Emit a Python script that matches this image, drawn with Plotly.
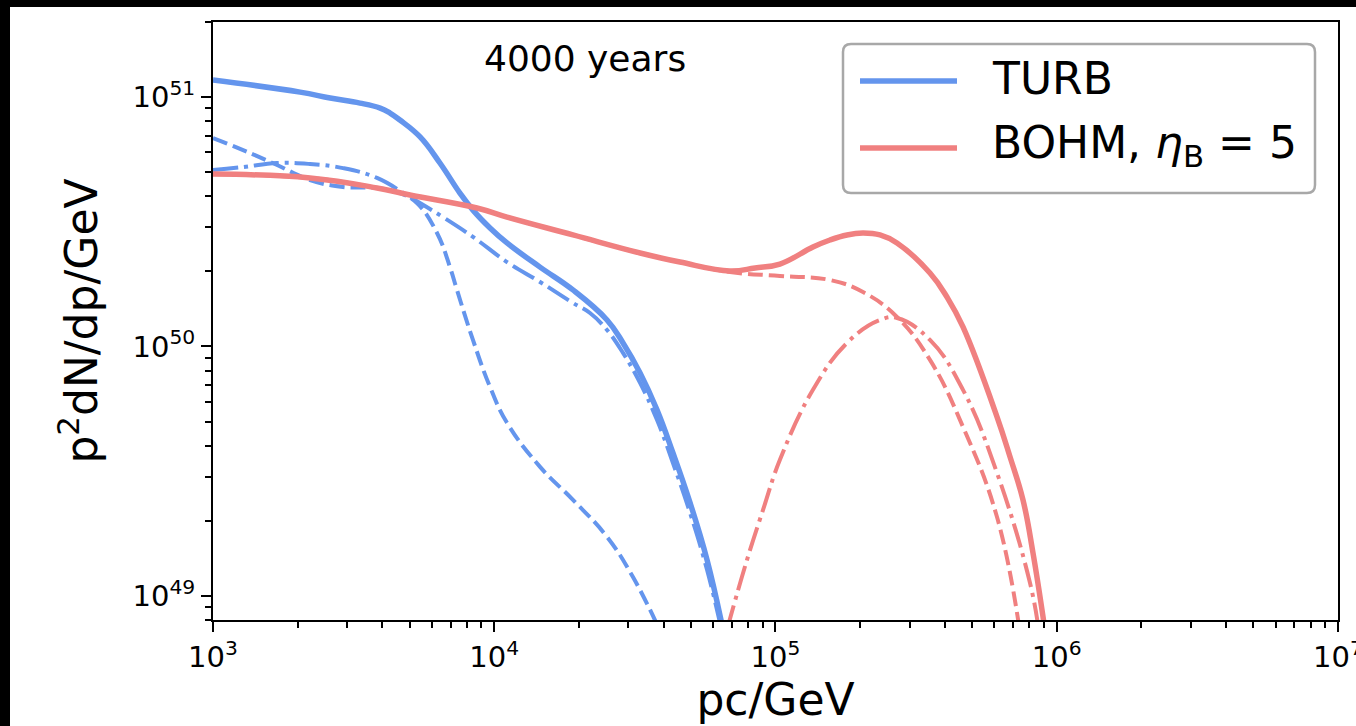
import plotly.graph_objects as go

# ---------------- data ----------------
turb_x_total = [1000, 2040, 2610, 3330, 3930, 4260, 4620, 5450, 6410, 7550, 8400, 9660, 11100,
                14550, 19050, 25180, 28700, 33000, 37900, 43200, 49700, 57100, 65100]
turb_y_total = [1.17e51, 1.047e51, 9.91e50, 9.46e50, 9.03e50, 8.63e50, 8.09e50, 6.92e50, 5.44e50,
                4.12e50, 3.52e50, 2.985e50, 2.60e50, 2.08e50, 1.685e50, 1.277e50, 1.033e50,
                7.83e49, 5.57e49, 3.74e49, 2.36e49, 1.394e49, 7.31e48]

turb_x_dashdot = [1000, 1279, 1689, 2213, 2899, 3830, 5017, 6575, 8400, 11100, 14550, 19050,
                  21900, 25180, 28700, 33000, 37900, 43200, 49700, 57100, 64300]
turb_y_dashdot = [5.10e50, 5.24e50, 5.44e50, 5.39e50, 5.19e50, 4.74e50, 3.97e50, 3.30e50,
                  2.75e50, 2.18e50, 1.814e50, 1.494e50, 1.362e50, 1.164e50, 9.42e49, 7.14e49,
                  5.08e49, 3.41e49, 2.15e49, 1.272e49, 7.31e48]

turb_x_dash = [1000, 1279, 1689, 2213, 2899, 3830, 4620, 5310, 6260, 6960, 7370, 8400, 9660,
               11100, 14550, 19050, 25180, 31100, 38700]
turb_y_dash = [6.85e50, 6.13e50, 5.34e50, 4.65e50, 4.36e50, 4.32e50, 4.12e50, 3.76e50,
               2.85e50, 2.08e50, 1.685e50, 1.062e50, 6.88e49, 4.94e49, 3.29e49, 2.425e49,
               1.724e49, 1.192e49, 7.31e48]

bohm_x_total = [1000, 2213, 3830, 5017, 8680, 11100, 19050, 33000, 45750, 68900, 84600,
                103700, 135900, 156200, 179600, 204700, 235300, 270400, 354200, 407100,
                464200, 613300, 682100, 758600, 823300, 908000]
bohm_y_total = [4.91e50, 4.74e50, 4.32e50, 4.05e50, 3.59e50, 3.30e50, 2.80e50, 2.37e50,
                2.18e50, 2.008e50, 2.064e50, 2.14e50, 2.505e50, 2.673e50, 2.80e50, 2.85e50,
                2.80e50, 2.60e50, 1.970e50, 1.579e50, 1.197e50, 5.22e49, 3.61e49, 2.425e49,
                1.487e49, 7.31e48]

bohm_x_dash = [1000, 2213, 3830, 5017, 8680, 11100, 19050, 33000, 45750, 68900, 103700,
               156200, 204700, 270400, 354200, 464200, 613300, 738000]
bohm_y_dash = [4.91e50, 4.74e50, 4.32e50, 4.05e50, 3.59e50, 3.30e50, 2.80e50, 2.37e50,
               2.18e50, 1.989e50, 1.917e50, 1.847e50, 1.653e50, 1.313e50, 8.83e49, 4.76e49,
               2.07e49, 7.31e48]

bohm_x_dashdot = [67200, 79200, 90300, 103700, 135900, 179600, 235300, 270400, 354200,
                  464200, 613300, 803200, 862600]
bohm_y_dashdot = [7.31e48, 1.394e49, 2.21e49, 3.51e49, 6.70e49, 1.033e50, 1.277e50,
                  1.301e50, 1.062e50, 6.70e49, 3.11e49, 1.128e49, 7.31e48]

x_tick_vals = [1e3, 1e4, 1e5, 1e6, 1e7]
x_tick_text = ["10<sup>3</sup>", "10<sup>4</sup>", "10<sup>5</sup>", "10<sup>6</sup>", "10<sup>7</sup>"]
y_tick_vals = [1e49, 1e50, 1e51]
y_tick_text = ["10<sup>49</sup>", "10<sup>50</sup>", "10<sup>51</sup>"]

legend_labels = ["TURB", "BOHM, <i>η</i><sub>B</sub> = 5"]
annotation_text = "4000 years"

# ---------------- style ----------------
BLUE = "#6495ED"
RED = "#F08080"
FONT = "DejaVu Sans"
DASH = "15px,6px"
DASHDOT = "25px,6px,4px,6px"
SMOOTH = 1.2
W_SOLID, W_DASH = 5.5, 4

W, H = 1356, 726
ML, MR, MT, MB = 213, 18, 22, 106
PW, PH = W - ML - MR, H - MT - MB


def px_x(p):
    return (p - ML) / PW


def px_y(p):
    return (H - MB - p) / PH


fig = go.Figure()


def add_line(x, y, color, width, dash):
    fig.add_trace(go.Scatter(x=x, y=y, mode="lines", showlegend=False, hoverinfo="skip",
                             line=dict(color=color, width=width, dash=dash, simplify=False,
                                       shape="spline", smoothing=SMOOTH)))


add_line(turb_x_dash, turb_y_dash, BLUE, W_DASH, DASH)
add_line(turb_x_dashdot, turb_y_dashdot, BLUE, W_DASH, DASHDOT)
add_line(bohm_x_dash, bohm_y_dash, RED, W_DASH, DASH)
add_line(bohm_x_dashdot, bohm_y_dashdot, RED, W_DASH, DASHDOT)
add_line(turb_x_total, turb_y_total, BLUE, W_SOLID, "solid")
add_line(bohm_x_total, bohm_y_total, RED, W_SOLID, "solid")

x_minor = [float(k) * 10.0 ** d for d in range(3, 7) for k in range(2, 10)]
y_minor = [8e48, 9e48] + [float(k) * 10.0 ** d for d in range(49, 51) for k in range(2, 10)] + [2e51]

axis_common = dict(
    type="log", showgrid=False, zeroline=False, showline=True, linecolor="black",
    linewidth=2, mirror=True, ticks="outside", ticklen=10, tickwidth=2, tickcolor="black",
    tickmode="array", tickfont=dict(family=FONT, size=29, color="black"), automargin=False,
    ticklabeloverflow="allow",
)

fig.update_xaxes(
    **axis_common, range=[3, 7.0001], tickvals=x_tick_vals, ticktext=x_tick_text,
    minor=dict(tickmode="array", tickvals=x_minor, ticks="outside", ticklen=6,
               tickwidth=1.5, tickcolor="black", showgrid=False),
    title=dict(text="pc/GeV", font=dict(family=FONT, size=44, color="black"), standoff=8),
)
fig.update_yaxes(
    **axis_common, range=[48.90309, 51.30103], tickvals=y_tick_vals, ticktext=y_tick_text,
    minor=dict(tickmode="array", tickvals=y_minor, ticks="outside", ticklen=6,
               tickwidth=1.5, tickcolor="black", showgrid=False),
    title=dict(text="p<sup>2</sup>dN/dp/GeV", font=dict(family=FONT, size=44, color="black"),
               standoff=21),
)

shapes = [
    # white page with black bands at top and left
    dict(type="rect", xref="paper", yref="paper", layer="below",
         x0=px_x(10), x1=px_x(W + 20), y0=px_y(H + 20), y1=px_y(7),
         fillcolor="white", line=dict(width=0)),
]

# legend frame (rounded corners)
lx0, lx1, ly0, ly1 = px_x(843), px_x(1315), px_y(193), px_y(44)
rx, ry = 8 / PW, 8 / PH
path = (f"M{lx0 + rx},{ly1} L{lx1 - rx},{ly1} Q{lx1},{ly1} {lx1},{ly1 - ry} "
        f"L{lx1},{ly0 + ry} Q{lx1},{ly0} {lx1 - rx},{ly0} L{lx0 + rx},{ly0} "
        f"Q{lx0},{ly0} {lx0},{ly0 + ry} L{lx0},{ly1 - ry} Q{lx0},{ly1} {lx0 + rx},{ly1} Z")
shapes.append(dict(type="path", xref="paper", yref="paper", path=path,
                   fillcolor="rgba(255,255,255,0.8)", line=dict(color="#a8a8a8", width=2.5)))

legend_colors = [BLUE, RED]
legend_rows = [81, 148]
annotations = [
    dict(text=annotation_text, xref="paper", yref="paper", x=px_x(585), y=px_y(59),
         xanchor="center", yanchor="middle", showarrow=False,
         font=dict(family=FONT, size=36, color="black")),
]
for lab, col, row in zip(legend_labels, legend_colors, legend_rows):
    shapes.append(dict(type="line", xref="paper", yref="paper", x0=px_x(860), x1=px_x(957),
                       y0=px_y(row), y1=px_y(row), line=dict(color=col, width=W_SOLID)))
    annotations.append(dict(text=lab, xref="paper", yref="paper", x=px_x(990), y=px_y(row - 3),
                            xanchor="left", yanchor="middle", showarrow=False,
                            font=dict(family=FONT, size=44, color="black")))

fig.update_layout(
    width=W, height=H, margin=dict(l=ML, r=MR, t=MT, b=MB, pad=0),
    paper_bgcolor="black", plot_bgcolor="white",
    shapes=shapes, annotations=annotations, showlegend=False,
    font=dict(family=FONT, color="black"),
)

fig.write_html("out.html")
